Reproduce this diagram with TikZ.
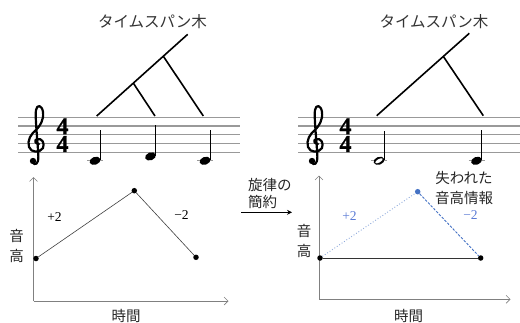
\documentclass[tikz,border=0pt]{standalone}
\usepackage{fontspec}
\newfontfamily\jp{Noto Sans CJK JP}
\newfontfamily\numfont{Liberation Serif}
\newfontfamily\tsfont[FakeBold=1.2]{Liberation Serif}
\usetikzlibrary{arrows.meta,calc}
\definecolor{bluept}{HTML}{4472C4}
\definecolor{bluelight}{HTML}{8EA9DB}
\definecolor{bluetxt}{HTML}{5B7BD5}
\newcommand\drawmystaff[2]{%
  \foreach \k in {0,...,4}{\draw[stafflinestyle] (#1,{117.3+8.7*\k}) -- (#2,{117.3+8.7*\k});}}
\begin{document}
\begin{tikzpicture}[x=1pt,y=-1pt,
  stafflinestyle/.style={draw=black!40, line width=1.2pt},
  ledgerstyle/.style={draw=black!40, line width=1.2pt},
  treeline/.style={line width=1.6pt, draw=black},
  stemline/.style={line width=1.1pt, draw=black},
  axisline/.style={draw=black!50, line width=0.6pt, -{Straight Barb[length=4pt,width=8pt]}},
  jptext/.style={font=\jp\fontsize{14.5}{20}\selectfont, inner sep=0pt, text=black!85},
  titletext/.style={font=\jp\fontsize{15.5}{18}\selectfont, inner sep=0pt, text=black!80},
  numtext/.style={font=\numfont\fontsize{13.5}{15}\selectfont, inner sep=0pt},
  timesig/.style={font=\tsfont\bfseries\fontsize{24}{24}\selectfont, inner sep=0pt},
  dot/.style={circle, fill=black, inner sep=0pt, minimum size=5.5pt},
  melody/.style={draw=black!75, line width=0.6pt},
  gclef/.pic={
    \draw[line width=2.2pt, line cap=round, line join=round]
      (2,0.6) .. controls (-2,0.6) and (-3,-3.4) .. (0,-4.4)
      .. controls (5,-5.4) and (8,-0.4) .. (6,4.6)
      .. controls (3,9.6) and (-6,9.6) .. (-8,3.6)
      .. controls (-10,-3.4) and (-6,-9.4) .. (-1,-13.4)
      .. controls (3,-17.4) and (7,-23.4) .. (6,-31.4)
      .. controls (5,-38.4) and (0,-39.4) .. (-1,-33.4)
      .. controls (-2,-27.4) and (0,-8.4) .. (1,6.6)
      .. controls (2,16.6) and (1,21.6) .. (-3,20.6);
    \fill (-4,17.6) circle (3.2pt);
  },
  qhead/.pic={\fill[rotate=20] (0,0) ellipse [x radius=5.6pt, y radius=3.9pt];},
  hhead/.pic={\fill[rotate=20] (0,0) ellipse [x radius=5.6pt, y radius=3.9pt];
              \fill[white, rotate=30] (0,0) ellipse [x radius=4.2pt, y radius=1.7pt];}
]
\useasboundingbox (0,0) rectangle (520,322);

% ---------- left staff ----------
\drawmystaff{18}{240}
\pic at (37,143.4) {gclef};
\node[timesig, anchor=base] (tsa1) at (62.5,134.2) {4};
\node[timesig, anchor=base] (tsa2) at (62.5,151.9) {4};
% notes
\draw[ledgerstyle] (87,160.8) -- (103,160.8);
\pic at (95,160.8) {qhead};
\draw[stemline] (100.4,160) -- (100.4,130);
\pic at (150.5,156.4) {qhead};
\draw[stemline] (155.9,155.6) -- (155.9,125);
\draw[ledgerstyle] (197,160.8) -- (213,160.8);
\pic at (205,160.8) {qhead};
\draw[stemline] (210.4,160) -- (210.4,130);

% tree left
\node[titletext] (ttl1) at (152.5,21.7) {タイムスパン木};
\coordinate (ta0) at (187.7,34.3);
\coordinate (ta1) at (96.7,116);
\coordinate (ta2) at (163.3,56.2);
\coordinate (ta3) at (203.3,116);
\coordinate (ta4) at (133.3,83.1);
\coordinate (ta5) at (155,116);
\draw[treeline] (ta1) -- (ta0);
\draw[treeline] (ta2) -- (ta3);
\draw[treeline] (ta4) -- (ta5);

% ---------- right staff ----------
\drawmystaff{298}{520}
\pic at (316,143.4) {gclef};
\node[timesig, anchor=base] (tsb1) at (345.5,134.2) {4};
\node[timesig, anchor=base] (tsb2) at (345.5,151.9) {4};
\draw[ledgerstyle] (371,160.8) -- (387,160.8);
\pic at (379,160.8) {hhead};
\draw[stemline] (384.4,160) -- (384.4,131);
\draw[ledgerstyle] (468.5,160.8) -- (484.5,160.8);
\pic at (476.5,160.8) {qhead};
\draw[stemline] (481.9,160) -- (481.9,130);

% tree right
\node[titletext] (ttl2) at (434,21.7) {タイムスパン木};
\coordinate (tb0) at (469.3,33.3);
\coordinate (tb1) at (376.7,115.7);
\coordinate (tb2) at (443.3,56.4);
\coordinate (tb3) at (483.3,115.7);
\draw[treeline] (tb1) -- (tb0);
\draw[treeline] (tb2) -- (tb3);

% ---------- left graph ----------
\coordinate (oa) at (33.5,301);
\coordinate (ya) at (33.5,177);
\coordinate (xa) at (228.5,301);
\draw[axisline] (oa) -- (ya);
\draw[axisline] (oa) -- (xa);
\node[dot] (p1) at (36,258.5) {};
\node[dot] (p2) at (134.3,190.7) {};
\node[dot] (p3) at (196,257.3) {};
\draw[melody] (p1) -- (p2) -- (p3);
\node[numtext] (la) at (54.5,216.7) {+2};
\node[numtext] (lb) at (181.5,215) {−2};
\node[jptext, align=center] (lya) at (16.5,246) {音\\高};
\node[jptext] (lxa) at (126,315.5) {時間};

% ---------- arrow ----------
\node[jptext, align=left, anchor=west, font=\jp\fontsize{14.5}{17.5}\selectfont] (red) at (248,193.7) {旋律の\\簡約};
\coordinate (ar0) at (241,212.3);
\coordinate (ar1) at (292,212.3);
\draw[line width=0.7pt, -{Stealth[length=5pt,width=5pt]}] (ar0) -- (ar1);

% ---------- right graph ----------
\coordinate (ob) at (319,299.3);
\coordinate (yb) at (319,175.5);
\coordinate (xb) at (510.5,299.3);
\draw[axisline] (ob) -- (yb);
\draw[axisline] (ob) -- (xb);
\node[dot] (q1) at (320,258) {};
\node[dot, fill=bluept] (q2) at (417.7,191.7) {};
\node[dot] (q3) at (480.7,258) {};
\draw[draw=black!80, line width=0.8pt] (q1) -- (q3);
\draw[draw=bluelight, line width=0.9pt, dotted] (q1) -- (q2);
\draw[draw=bluept, line width=0.9pt, dash pattern=on 2.5pt off 1.5pt] (q2) -- (q3);
\node[numtext, text=bluetxt] (lc) at (349.5,216) {+2};
\node[numtext, text=bluetxt] (ld) at (470.5,215) {−2};
\node[jptext, align=center] (lyb) at (304,240.5) {音\\高};
\node[jptext] (lxb) at (408.5,315.5) {時間};
\node[jptext, align=center] (lost) at (464,188.3) {失われた\\音高情報};
\end{tikzpicture}
\end{document}
